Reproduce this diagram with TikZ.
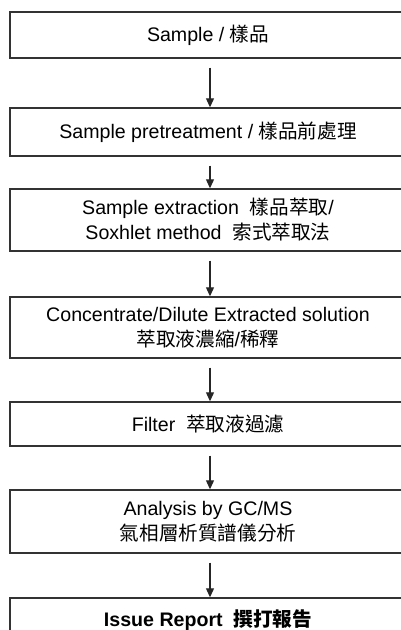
\documentclass[tikz,border=0pt]{standalone}
\usepackage{fontspec}
\setmainfont{Liberation Sans}
\newfontfamily\cjk{Noto Sans CJK TC}
\usetikzlibrary{arrows.meta}
\begin{document}
\begin{tikzpicture}[x=1pt,y=-1pt,
  stepbox/.style={draw=black!80, line width=1.4pt, rectangle, minimum width=396pt, inner sep=0pt, align=center, font=\fontsize{19.6}{25}\selectfont},
  flow/.style={draw=black!85, line width=1.1pt, -{Triangle[width=8pt,length=9pt]}}]
\useasboundingbox (0,0) rectangle (401,630);
\node[stepbox, minimum height=46pt] (b1) at (208,35) {Sample / {\cjk 樣品}};
\node[stepbox, minimum height=48pt] (b2) at (208,132) {Sample pretreatment / {\cjk 樣品前處理}};
\node[stepbox, minimum height=62pt] (b3) at (208,220) {Sample extraction\ \ {\cjk 樣品萃取}/\\Soxhlet method\ \ {\cjk 索式萃取法}};
\node[stepbox, minimum height=61pt] (b4) at (208,327.5) {Concentrate/Dilute Extracted solution\\{\cjk 萃取液濃縮}/{\cjk 稀釋}};
\node[stepbox, minimum height=44pt] (b5) at (208,424) {Filter\ \ {\cjk 萃取液過濾}};
\node[stepbox, minimum height=63pt] (b6) at (208,521.5) {Analysis by GC/MS\\{\cjk 氣相層析質譜儀分析}};
\node[stepbox, minimum height=44pt] (b7) at (208,620) {\bfseries Issue Report\ \ {\cjk 撰打報告}};
\foreach \a/\b in {b1/b2,b2/b3,b3/b4,b4/b5,b5/b6,b6/b7}
  \draw[flow] ([xshift=2pt,yshift=-9pt]\a.south) -- ([xshift=2pt]\b.north);
\end{tikzpicture}
\end{document}
